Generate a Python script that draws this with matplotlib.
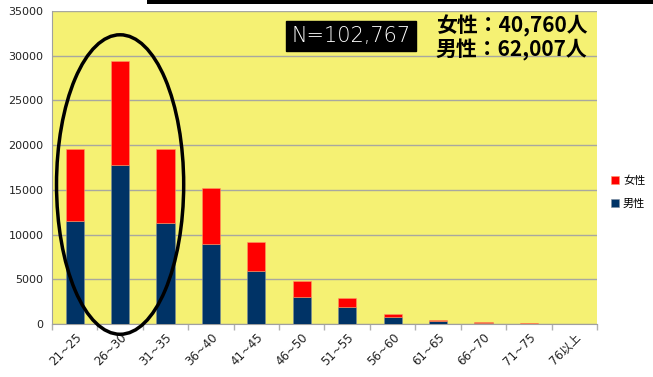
import matplotlib.pyplot as plt
from matplotlib.patches import Ellipse, Rectangle
import numpy as np

plt.rcParams['font.family'] = ['Noto Sans CJK JP', 'DejaVu Sans']

ages = ['21~25', '26~30', '31~35', '36~40', '41~45', '46~50',
        '51~55', '56~60', '61~65', '66~70', '71~75', '76以上']
male = [11500, 17800, 11300, 8900, 5900, 3000, 1900, 800, 350, 150, 40, 20]
female = [8100, 11600, 8300, 6300, 3300, 1800, 1000, 300, 150, 60, 40, 20]

yellow = '#f5f173'
red = '#ff0000'
navy = '#003366'
tick_font = ['DejaVu Sans', 'Noto Sans CJK JP']

fig = plt.figure(figsize=(6.53, 3.77), dpi=100)
ax = fig.add_axes([0.0796, 0.1406, 0.8346, 0.830])
ax.set_facecolor(yellow)

x = np.arange(len(ages))
ax.bar(x, male, width=0.4, color=navy, edgecolor='#7f8fa0', linewidth=0.4,
       label='男性', zorder=3)
ax.bar(x, female, width=0.4, bottom=male, color=red, edgecolor='#ff9966',
       linewidth=0.4, label='女性', zorder=3)

ax.set_xlim(-0.5, len(ages) - 0.5)
ax.set_ylim(0, 35000)
ax.set_yticks(np.arange(0, 35001, 5000))
ax.yaxis.grid(True, color='#a8a8a0', linewidth=1.0, zorder=1)
ax.tick_params(axis='y', length=0, pad=6)
for lbl in ax.get_yticklabels():
    lbl.set_family(tick_font)
    lbl.set_fontsize(8)
    lbl.set_color('#222222')

ax.set_xticks(x)
ax.set_xticklabels(ages, rotation=45, ha='right', rotation_mode='anchor',
                   fontsize=8.5, color='#222222', family=tick_font)
ax.tick_params(axis='x', which='major', length=0, pad=5)
ax.set_xticks(np.arange(-0.5, len(ages)), minor=True)
ax.tick_params(axis='x', which='minor', length=4, color='#b0b0b0', width=1)

for side in ['top', 'right']:
    ax.spines[side].set_visible(False)
ax.spines['left'].set_color('#a0a0a0')
ax.spines['bottom'].set_color('#a0a0a0')

# circle round the three youngest groups
ax.add_patch(Ellipse((1, 15600), 2.8, 33500, fill=False, edgecolor='black',
                     linewidth=2.5, clip_on=False, zorder=5))

# total count box
fig.text(0.5375, 0.905, 'N=102,767', color='white', fontsize=15,
         family=['DejaVu Sans'], fontweight='light', ha='center', va='center',
         bbox=dict(boxstyle='square,pad=0.25', facecolor='black',
                   edgecolor='black'))
fig.text(0.667, 0.902, '女性：40,760人', color='black', fontsize=15,
         fontweight='bold', ha='left', va='bottom')
fig.text(0.667, 0.898, '男性：62,007人', color='black', fontsize=15,
         fontweight='bold', ha='left', va='top')

handles, labels = ax.get_legend_handles_labels()
fig.legend(handles[::-1], labels[::-1], loc='center left',
           bbox_to_anchor=(0.92, 0.49), frameon=False, fontsize=8,
           handlelength=0.7, handleheight=0.7, handletextpad=0.4,
           labelspacing=1.2)

# black bar along the top edge
fig.patches.append(Rectangle((0.225, 0.989), 0.775, 0.011,
                             transform=fig.transFigure, facecolor='black',
                             edgecolor='none'))

fig.savefig('out.png', dpi=100)
